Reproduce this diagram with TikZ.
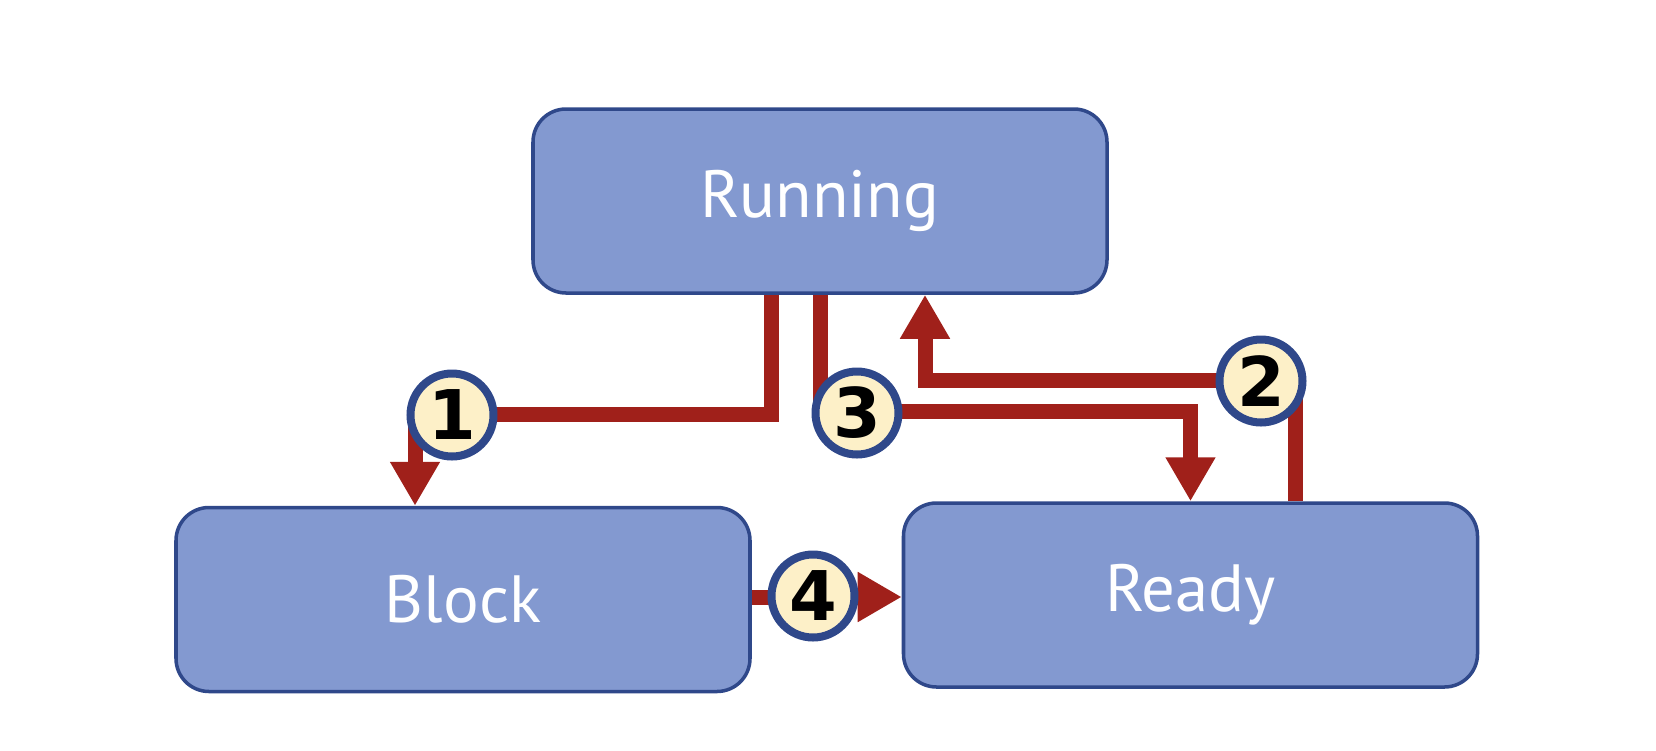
\documentclass[tikz,border=0pt]{standalone}
\usepackage{fontspec}
\setmainfont{PT Sans}
\newfontfamily\numfont{DejaVu Sans}
\usetikzlibrary{arrows.meta,positioning}
\definecolor{boxfill}{RGB}{131,153,208}
\definecolor{boxline}{RGB}{47,72,138}
\definecolor{flowred}{RGB}{160,32,26}
\definecolor{numfill}{RGB}{253,240,200}

\begin{document}
\begin{tikzpicture}[>={Triangle[width=0.47cm,length=0.44cm]},
  state/.style={draw=boxline,line width=1pt,fill=boxfill,rounded corners=0.33cm,
    minimum width=5.74cm,minimum height=1.84cm,inner sep=0pt,text=white,
    font=\fontsize{19}{22}\selectfont},
  flow/.style={draw=flowred,line width=0.15cm},
  num/.style={circle,draw=boxline,line width=0.08cm,fill=numfill,minimum size=0.83cm,
    inner sep=0pt,font=\numfont\bfseries\fontsize{19.5}{22}\selectfont}]
\useasboundingbox (0,0) rectangle (16.56,-7.50);
% states
\node[state] (run) at (8.20,-2.01) {Running};
\node[state] (blk) at (4.63,-5.995) {Block};
\node[state] (rdy) at (11.905,-5.95) {Ready};
% bends
\coordinate (b1) at (7.71,-4.14);
\coordinate (b1e) at (4.15,-4.14);
\coordinate (b2) at (12.95,-3.80);
\coordinate (b2e) at (9.25,-3.80);
\coordinate (b3) at (8.20,-4.11);
\coordinate (b3e) at (11.905,-4.11);
\coordinate (b4) at (0,-5.97);
% transitions
\draw[flow,->] (run.south -| b1) -- (b1) -- (b1e) -- (blk.north -| b1e);
\draw[flow,->] (rdy.north -| b2) -- (b2) -- (b2e) -- (run.south -| b2e);
\draw[flow,->] (run.south) -- (b3) -- (b3e) -- (rdy.north);
\draw[flow,->] (blk.east |- b4) -- (rdy.west |- b4);
% numbers
\node[num] (n1) at (4.52,-4.15) {1};
\node[num] (n2) at (12.61,-3.81) {2};
\node[num] (n3) at (8.57,-4.13) {3};
\node[num] (n4) at (8.13,-5.96) {4};
\end{tikzpicture}
\end{document}
